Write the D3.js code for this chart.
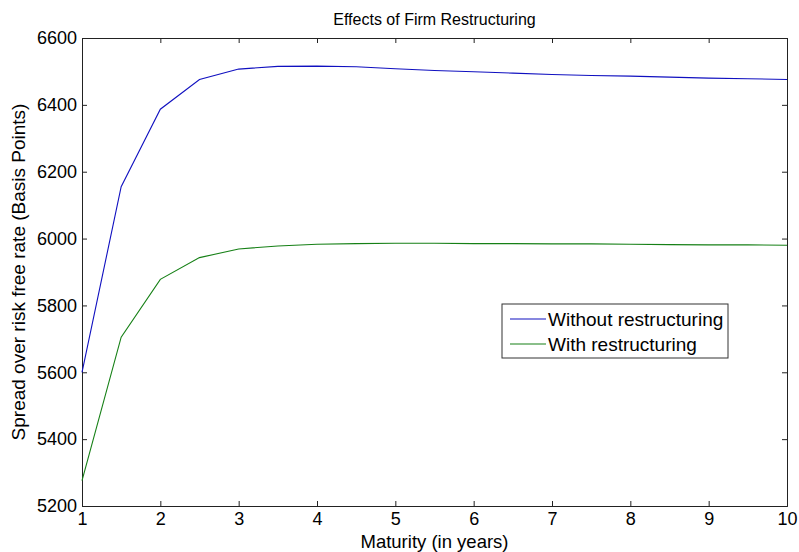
<!DOCTYPE html>
<html>
<head>
<meta charset="UTF-8">
<script src="https://d3js.org/d3.v7.min.js"></script>
<style>
  body { margin: 0; background: #fff; }
  text { font-family: "Liberation Sans", Arial, sans-serif; fill: #000; }
</style>
</head>
<body>
<svg id="chart" width="799" height="552"></svg>
<script>
const maturity = [1, 1.5, 2, 2.5, 3, 3.5, 4, 4.5, 5, 5.5, 6, 6.5, 7, 7.5, 8, 8.5, 9, 9.5, 10];
const withoutRestructuring = [5600, 6155, 6387, 6476, 6507, 6515, 6516, 6514, 6508, 6503, 6499, 6495, 6491, 6488, 6486, 6483, 6480, 6478, 6476];
const withRestructuring = [5276, 5705, 5878, 5943, 5969, 5978, 5983, 5985, 5986, 5986, 5985, 5985, 5984, 5984, 5983, 5982, 5981, 5981, 5980];
const xTicks = [1, 2, 3, 4, 5, 6, 7, 8, 9, 10];
const yTicks = [5200, 5400, 5600, 5800, 6000, 6200, 6400, 6600];
const seriesNames = ["Without restructuring", "With restructuring"];
const seriesColors = ["#1010c0", "#168016"];

const svg = d3.select("#chart");
const margin = { top: 38, right: 12, bottom: 46, left: 82 };
const width = 799, height = 552;

const x = d3.scaleLinear().domain([1, 10]).range([margin.left, width - margin.right]);
const y = d3.scaleLinear().domain([5200, 6600]).range([height - margin.bottom, margin.top]);

const tickLen = 5;

// axes: ticks pointing inward on all sides, like matlab
svg.append("g")
  .attr("transform", `translate(0,${y(5200)})`)
  .call(d3.axisBottom(x).tickValues(xTicks).tickSize(-tickLen).tickPadding(6).tickFormat(d3.format("d")))
  .call(g => g.selectAll("text").attr("font-size", 18).attr("dy", "0.71em"));
svg.append("g")
  .attr("transform", `translate(0,${y(6600)})`)
  .call(d3.axisTop(x).tickValues(xTicks).tickSize(-tickLen).tickFormat(""));
svg.append("g")
  .attr("transform", `translate(${x(1)},0)`)
  .call(d3.axisLeft(y).tickValues(yTicks).tickSize(-tickLen).tickPadding(5).tickFormat(d3.format("d")))
  .call(g => g.selectAll("text").attr("font-size", 18));
svg.append("g")
  .attr("transform", `translate(${x(10)},0)`)
  .call(d3.axisRight(y).tickValues(yTicks).tickSize(-tickLen).tickFormat(""));

svg.selectAll(".domain").attr("stroke", "#222");
svg.selectAll(".tick line").attr("stroke", "#222");

// lines
const line = d3.line().x((d, i) => x(maturity[i])).y(d => y(d));
[withoutRestructuring, withRestructuring].forEach((s, k) => {
  svg.append("path")
    .datum(s)
    .attr("fill", "none")
    .attr("stroke", seriesColors[k])
    .attr("stroke-width", 1.1)
    .attr("d", line);
});

// title and labels
svg.append("text")
  .attr("x", (x(1) + x(10)) / 2).attr("y", 25)
  .attr("text-anchor", "middle").attr("font-size", 16)
  .text("Effects of Firm Restructuring");
svg.append("text")
  .attr("x", (x(1) + x(10)) / 2).attr("y", 548)
  .attr("text-anchor", "middle").attr("font-size", 18.5)
  .text("Maturity (in years)");
svg.append("text")
  .attr("transform", `translate(25,${(y(5200) + y(6600)) / 2}) rotate(-90)`)
  .attr("text-anchor", "middle").attr("font-size", 19)
  .text("Spread over risk free rate (Basis Points)");

// legend
const lg = svg.append("g").attr("transform", "translate(502,304)");
lg.append("rect").attr("width", 226).attr("height", 54)
  .attr("fill", "#fff").attr("stroke", "#333");
seriesNames.forEach((name, i) => {
  const cy = 15 + i * 25;
  lg.append("line").attr("x1", 8).attr("x2", 44).attr("y1", cy).attr("y2", cy)
    .attr("stroke", seriesColors[i]).attr("stroke-width", 1.1);
  lg.append("text").attr("x", 46).attr("y", cy).attr("dy", "0.35em")
    .attr("font-size", 19).text(name);
});
</script>
</body>
</html>
